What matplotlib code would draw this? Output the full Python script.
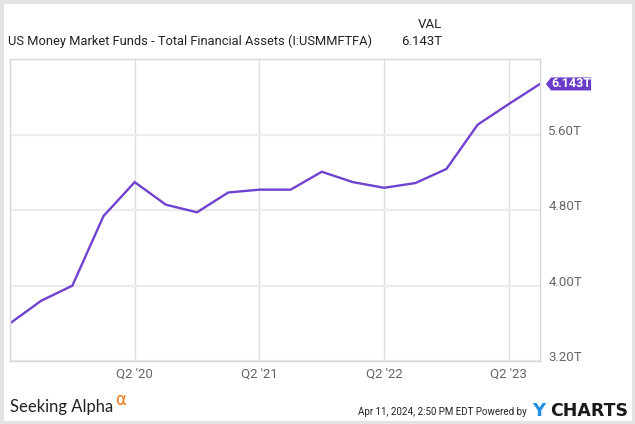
import matplotlib.pyplot as plt
import matplotlib.transforms as mtransforms
from matplotlib.path import Path
from matplotlib.patches import Rectangle

# quarterly total financial assets, trillions USD (Q2 '19 .. Q3 '23)
quarters = ["Q2 '19", "Q3 '19", "Q4 '19", "Q1 '20", "Q2 '20", "Q3 '20", "Q4 '20",
            "Q1 '21", "Q2 '21", "Q3 '21", "Q4 '21", "Q1 '22", "Q2 '22", "Q3 '22",
            "Q4 '22", "Q1 '23", "Q2 '23", "Q3 '23"]
values = [3.60, 3.84, 4.00, 4.74, 5.10, 4.86, 4.78, 4.99, 5.02, 5.02, 5.21,
          5.10, 5.04, 5.09, 5.24, 5.71, 5.93, 6.143]
yticks = [3.2, 4.0, 4.8, 5.6]
ytick_labels = ["3.20T", "4.00T", "4.80T", "5.60T"]
xtick_labels = ["Q2 '20", "Q2 '21", "Q2 '22", "Q2 '23"]

line_col = '#6f42d0'
grey_txt = '#666666'

plt.rcParams['font.family'] = ['Roboto', 'DejaVu Sans']

fig = plt.figure(figsize=(6.35, 4.24), dpi=100)
ax = fig.add_axes([10/635, 63/424, 530/635, 302/424])

x = list(range(len(values)))
ax.plot(x, values, color=line_col, lw=1.7, solid_joinstyle='miter')

ax.set_xlim(0, len(values) - 1)
ax.set_ylim(3.2, 6.408)

xt = [quarters.index(q) for q in xtick_labels]
ax.set_xticks(xt)
ax.set_xticklabels(xtick_labels, color=grey_txt, fontsize=9.5)
ax.set_yticks(yticks)
ax.set_yticklabels(ytick_labels, color=grey_txt, fontsize=9.5)
ax.yaxis.tick_right()
ax.tick_params(length=0, axis='y', pad=6)
ax.tick_params(length=0, axis='x', pad=5)
off = mtransforms.ScaledTranslation(0, 5/100, fig.dpi_scale_trans)
for lab in ax.get_yticklabels():
    lab.set_transform(lab.get_transform() + off)

ax.grid(axis='y', color='#ececec', lw=1.6)
ax.grid(axis='x', color='#dddddd', lw=1)
ax.set_axisbelow(True)
for s in ax.spines.values():
    s.set_color('#d6d6d6')
    s.set_linewidth(1)


def tag(x0, y0, width, height, mutation_size):
    p = height / 2
    verts = [(x0 - p * 0.8, y0 + height / 2), (x0, y0 + height), (x0 + width, y0 + height),
             (x0 + width, y0), (x0, y0), (x0 - p * 0.8, y0 + height / 2)]
    codes = [Path.MOVETO] + [Path.LINETO] * 4 + [Path.CLOSEPOLY]
    return Path(verts, codes)


ax.annotate(f"{values[-1]:.3f}T", xy=(x[-1], values[-1]), xytext=(8, 0),
            textcoords='offset points', va='center', ha='left', color='white',
            fontsize=9, fontweight='bold',
            bbox=dict(boxstyle=tag, fc='#6a3ac9', ec='none', pad=3.5), annotation_clip=False)

# header
fig.text(8/635, 1 - 45/424, "US Money Market Funds - Total Financial Assets (I:USMMFTFA)",
         fontsize=9.3, color='#222222', va='baseline')
fig.text(442/635, 1 - 28/424, "VAL", fontsize=9.5, color='#222222', ha='right', va='baseline')
fig.text(442/635, 1 - 45/424, f"{values[-1]:.3f}T", fontsize=9.5, color='#222222',
         ha='right', va='baseline')

# footer
fig.text(10/635, 1 - 412/424, "Seeking Alpha", fontsize=12, color='#222222',
         va='baseline', family='Lato')
fig.text(115/635, 1 - 405/424, "\u03b1", fontsize=12, color='#f07a1a', va='baseline',
         family='DejaVu Sans')
fig.text(527/635, 1 - 415/424, "Apr 11, 2024, 2:50 PM EDT Powered by", fontsize=7,
         color='#222222', ha='right', va='baseline')
fig.text(532/635, 1 - 416/424, "Y", fontsize=13, color='#1f8fe6', va='baseline',
         fontweight='bold', family='DejaVu Sans')
fig.text(550/635, 1 - 416/424, "CHARTS", fontsize=12.5, color='#1a1a1a', va='baseline',
         fontweight='bold', family='DejaVu Sans')

fig.patches.append(Rectangle((0, 0), 1, 1, transform=fig.transFigure, fill=False,
                             ec='#e3e3e3', lw=5))

fig.savefig('out.png', dpi=100)
